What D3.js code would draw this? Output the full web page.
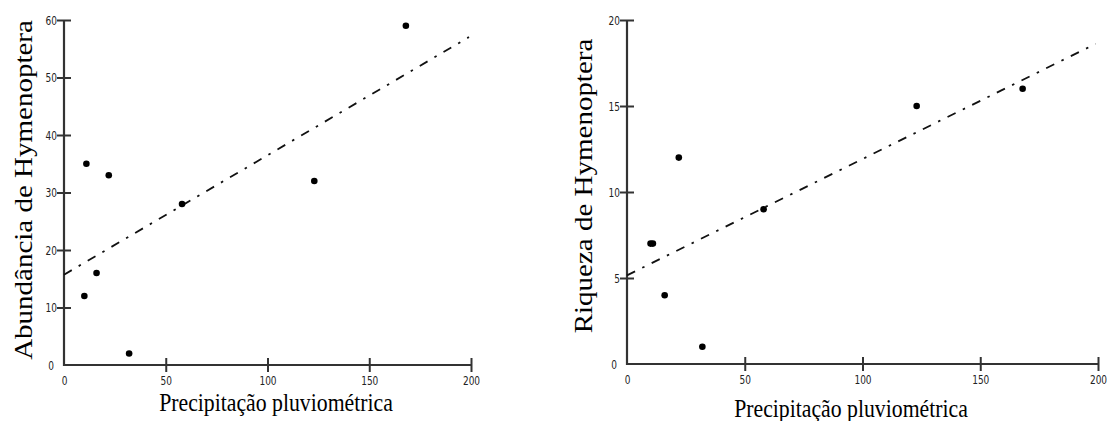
<!DOCTYPE html>
<html><head><meta charset="utf-8">
<script src="https://cdn.jsdelivr.net/npm/d3@7"></script>
<style>
html,body{margin:0;padding:0;background:#fff;}
svg{display:block;}
</style></head>
<body>
<svg id="c" width="1110" height="421"></svg>
<script>
// Data
const precip = [10, 11, 16, 22, 32, 58, 123, 168];
const abundancia = [12, 35, 16, 33, 2, 28, 32, 59];
const riqueza = [7, 7, 4, 12, 1, 9, 15, 16];
const xTicks = [0, 50, 100, 150, 200];
const yTicksAb = [0, 10, 20, 30, 40, 50, 60];
const yTicksRq = [0, 5, 10, 15, 20];
const xLabel = "Precipitação pluviométrica";
const yLabelAb = "Abundância de Hymenoptera";
const yLabelRq = "Riqueza de Hymenoptera";

const svg = d3.select("#c");
const SX = 0.87; // horizontal compression of the original picture

function fit(xs, ys) {
  const mx = d3.mean(xs), my = d3.mean(ys);
  let sxy = 0, sxx = 0;
  xs.forEach((x, i) => { sxy += (x - mx) * (ys[i] - my); sxx += (x - mx) ** 2; });
  const b = sxy / sxx;
  return { a: my - b * mx, b };
}

function panel(cfg) {
  const g = svg.append("g");
  const x = d3.scaleLinear().domain([0, 200]).range([cfg.x0, cfg.x1]);
  const y = d3.scaleLinear().domain([0, cfg.ymax]).range([cfg.y0, cfg.y1]);
  const axisColor = "#333";
  const tickFont = "'DejaVu Sans Condensed','DejaVu Sans',sans-serif";

  // x axis
  const xa = g.append("g").attr("transform", `translate(0,${cfg.y0})`)
    .call(d3.axisBottom(x).tickValues(xTicks).tickSize(0).tickPadding(0).tickFormat(""));
  xa.select(".domain").attr("stroke", axisColor).attr("stroke-width", 2.2).attr("d", `M${cfg.x0 - 1},0H${cfg.x1}`);
  xa.selectAll(".tick").each(function(d) {
    const t = d3.select(this);
    if (d !== 0) t.append("line").attr("y1", -7).attr("y2", 7).attr("stroke", axisColor).attr("stroke-width", 2);
    t.append("text").attr("y", cfg.xtickY).attr("text-anchor", "middle")
      .attr("transform", `scale(${SX},1)`)
      .attr("font-family", tickFont)
      .attr("font-size", 11.5).attr("fill", "#222").text(d);
  });

  // y axis
  const ya = g.append("g").attr("transform", `translate(${cfg.x0},0)`)
    .call(d3.axisLeft(y).tickValues(cfg.yTicks).tickSize(0).tickPadding(0).tickFormat(""));
  ya.select(".domain").attr("stroke", axisColor).attr("stroke-width", 2.2).attr("d", `M0,${cfg.y0 + 1}V${cfg.y1}`);
  ya.selectAll(".tick").each(function(d) {
    const t = d3.select(this);
    if (d !== 0) t.append("line").attr("x1", -7).attr("x2", 7).attr("stroke", axisColor).attr("stroke-width", 2);
    t.append("text").attr("x", (d === 0 ? -10 : -7) / SX).attr("dy", "0.35em").attr("text-anchor", "end")
      .attr("transform", `scale(${SX},1)`)
      .attr("font-family", tickFont)
      .attr("font-size", 11.5).attr("fill", "#222").text(d);
  });

  // regression line
  const f = fit(precip, cfg.values);
  const lineData = [0, 199].map(v => [v, f.a + f.b * v]);
  g.append("path").datum(lineData)
    .attr("d", d3.line().x(d => x(d[0])).y(d => y(d[1])))
    .attr("fill", "none").attr("stroke", "#111").attr("stroke-width", 1.8)
    .attr("stroke-dasharray", "9,8,2.5,8");

  // points
  g.selectAll("circle.pt").data(precip.map((p, i) => [p, cfg.values[i]])).enter()
    .append("circle").attr("class", "pt")
    .attr("cx", d => x(d[0])).attr("cy", d => y(d[1])).attr("r", 3.3).attr("fill", "#000");

  // axis titles
  g.append("text")
    .attr("transform", `translate(${cfg.xlabX},${cfg.xlabY}) scale(${SX},1)`)
    .attr("text-anchor", "middle").attr("font-family", "'Liberation Serif','Times New Roman',serif")
    .attr("font-size", 25).attr("fill", "#000").text(xLabel);
  g.append("text")
    .attr("transform", `translate(${cfg.ylabX},${cfg.ylabY}) scale(${SX},1) rotate(-90)`)
    .attr("text-anchor", "middle").attr("font-family", "'Liberation Serif','Times New Roman',serif")
    .attr("font-size", 29).attr("fill", "#000").text(cfg.ylabel);
}

panel({ x0: 64, x1: 471, y0: 365, y1: 20, ymax: 60, yTicks: yTicksAb, values: abundancia,
        xtickY: 20, xlabX: 276, xlabY: 411, ylabX: 32, ylabY: 190, ylabel: yLabelAb });
panel({ x0: 627, x1: 1098, y0: 364, y1: 20, ymax: 20, yTicks: yTicksRq, values: riqueza,
        xtickY: 20, xlabX: 851, xlabY: 417, ylabX: 592, ylabY: 186, ylabel: yLabelRq });
</script>
</body></html>
